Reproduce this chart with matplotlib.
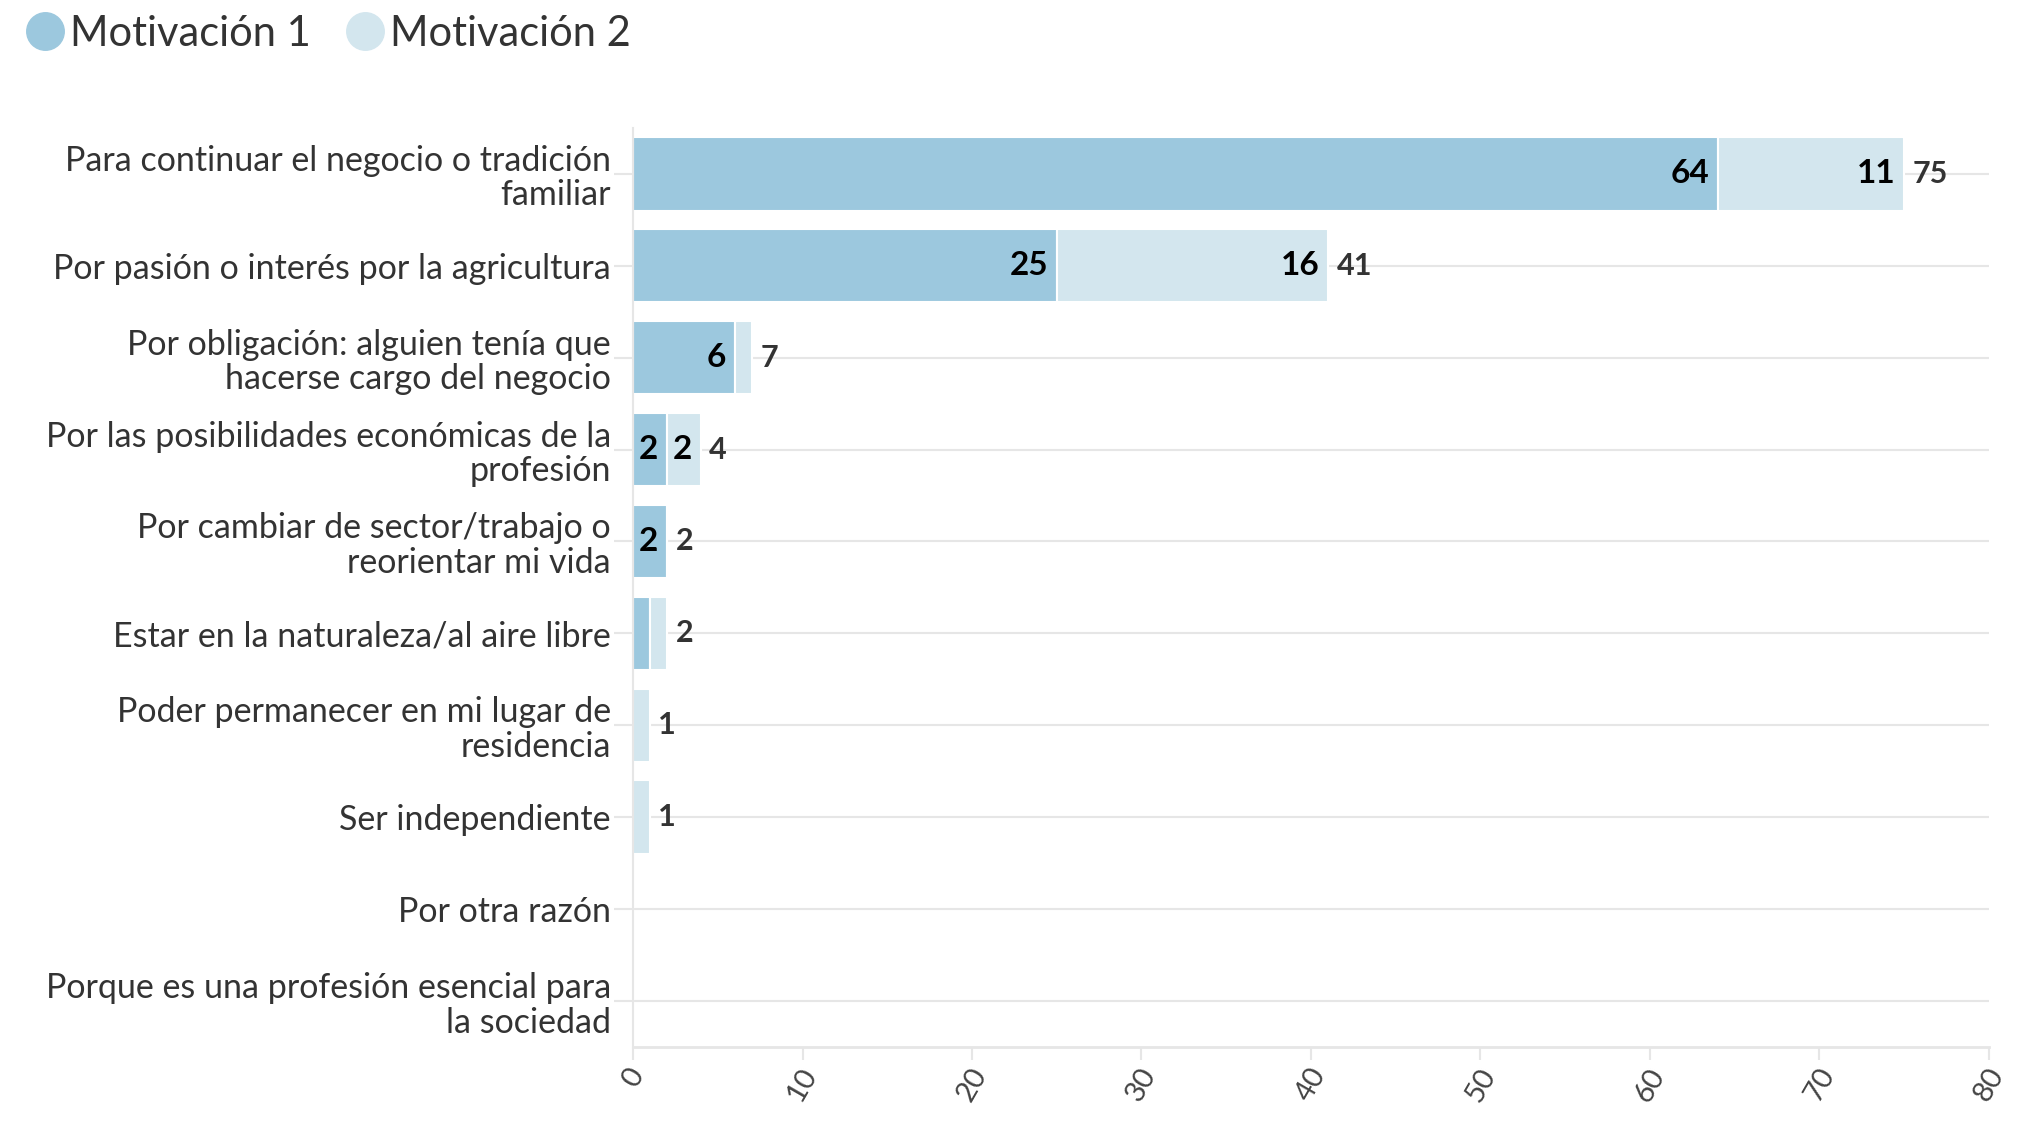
import matplotlib.pyplot as plt
from matplotlib.lines import Line2D

categorias = [
    "Para continuar el negocio o tradición\nfamiliar",
    "Por pasión o interés por la agricultura",
    "Por obligación: alguien tenía que\nhacerse cargo del negocio",
    "Por las posibilidades económicas de la\nprofesión",
    "Por cambiar de sector/trabajo o\nreorientar mi vida",
    "Estar en la naturaleza/al aire libre",
    "Poder permanecer en mi lugar de\nresidencia",
    "Ser independiente",
    "Por otra razón",
    "Porque es una profesión esencial para\nla sociedad",
]
motivacion1 = [64, 25, 6, 2, 2, 1, 0, 0, 0, 0]
motivacion2 = [11, 16, 1, 2, 0, 1, 1, 1, 0, 0]
ticks_x = [0, 10, 20, 30, 40, 50, 60, 70, 80]

color1 = '#9cc8de'
color2 = '#d3e6ee'

plt.rcParams['font.family'] = ['Lato', 'DejaVu Sans']

fig = plt.figure(figsize=(20.25, 11.21), dpi=100)
ax = fig.add_axes([0.3126, 0.066, 0.6696, 0.82])

y = list(range(len(categorias)))
totales = [a + b for a, b in zip(motivacion1, motivacion2)]

# grid lines behind bars
for yi in y:
    ax.axhline(yi, color='#e6e6e6', lw=1.5, zorder=0)

ax.barh(y, motivacion1, height=0.8, color=color1, edgecolor='white', linewidth=1.5, zorder=2)
ax.barh(y, motivacion2, left=motivacion1, height=0.8, color=color2, edgecolor='white', linewidth=1.5, zorder=2)

for yi, a, b, t in zip(y, motivacion1, motivacion2, totales):
    if a >= 2:
        ax.text(a - 0.5, yi, str(a), ha='right', va='center', fontsize=24,
                fontweight='bold', color='black', zorder=3)
    if b >= 2:
        ax.text(a + b - 0.5, yi, str(b), ha='right', va='center', fontsize=24,
                fontweight='bold', color='black', zorder=3)
    if t > 0:
        ax.text(t + 0.5, yi, str(t), ha='left', va='center', fontsize=22,
                fontweight='bold', color='#333333', zorder=3)

ax.set_xlim(0, 80)
ax.set_ylim(9.5, -0.5)
ax.set_yticks(y)
ax.set_yticklabels(categorias, fontsize=24.5, color='#333333', linespacing=1.1)
ax.set_xticks(ticks_x)
ax.set_xticklabels([str(t) for t in ticks_x], rotation=60, ha='center', va='top',
                   fontsize=21, color='#444444')
ax.tick_params(axis='y', length=14, color='#e6e6e6', width=1.5, pad=2)
ax.tick_params(axis='x', length=9, color='#e6e6e6', width=1.5, pad=3)

for s in ['top', 'right']:
    ax.spines[s].set_visible(False)
ax.spines['left'].set_color('#e6e6e6')
ax.spines['left'].set_linewidth(1.5)
ax.spines['bottom'].set_color('#e6e6e6')
ax.spines['bottom'].set_linewidth(2)

handles = [
    Line2D([], [], marker='o', linestyle='', markersize=27, color=color1),
    Line2D([], [], marker='o', linestyle='', markersize=27, color=color2),
]
fig.legend(handles, ['Motivación 1', 'Motivación 2'], loc='upper left',
           bbox_to_anchor=(-0.017, 1.02), ncol=2, frameon=False, fontsize=30,
           handletextpad=-0.4, columnspacing=0.3, labelcolor='#333333')

fig.savefig('out.png', dpi=100, facecolor='white')
